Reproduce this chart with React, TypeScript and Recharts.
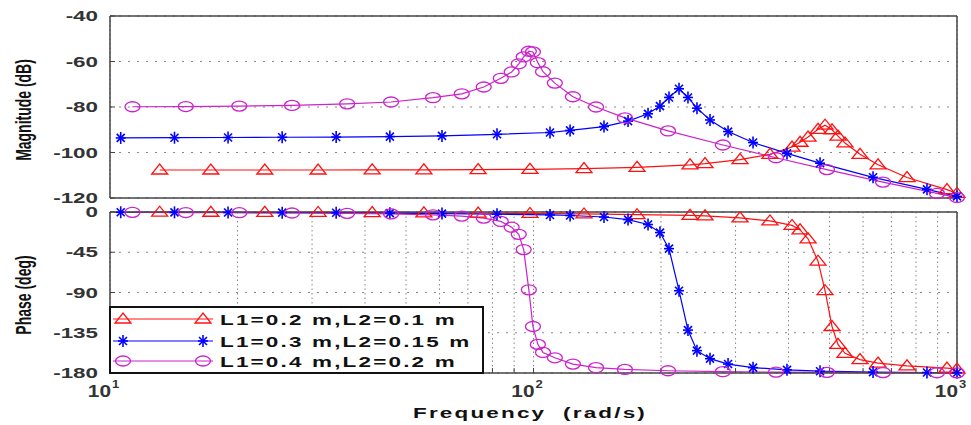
import React from 'react';
import { LineChart, Line, XAxis, YAxis, CartesianGrid, Legend } from 'recharts';

// series A: L1=0.2 m, L2=0.1 m (red triangles)
const freqA = [13.1, 17.3, 23.2, 31.0, 41.6, 55.1, 74, 98.1, 131.6, 175.6, 234.2, 254.1, 307.4, 361.7, 407.8, 426, 444.9, 469.7, 488, 506.9, 523.6, 543.9, 590.2, 651, 762.1, 947, 1000];
const magA = [-107.7, -107.7, -107.7, -107.7, -107.6, -107.6, -107.5, -107.4, -107.1, -106.5, -105.4, -104.9, -103.1, -100.8, -97.6, -95.5, -93.2, -89.8, -88, -90, -92.8, -95.8, -100.8, -105.4, -111, -116.3, -118];
const phaseA = [-0.2, -0.3, -0.4, -0.5, -0.7, -0.9, -1.2, -1.6, -2.2, -3, -3.8, -4.3, -6.5, -10, -15, -20, -30, -55, -88, -128, -148, -158, -165, -169, -172, -174.5, -175.5];

// series B: L1=0.3 m, L2=0.15 m (blue stars)
const freqB = [10.6, 14.2, 19.0, 25.5, 34.2, 45.8, 60.8, 82.0, 109.4, 122, 146.7, 167.2, 186.4, 198.9, 208.9, 220.6, 231.6, 243.2, 261.1, 288, 329.9, 396.8, 474.9, 633.5, 849.4, 1000];
const magB = [-93.6, -93.5, -93.4, -93.3, -93.2, -93.0, -92.7, -92.0, -91.2, -90.3, -88.6, -86.2, -83, -79.6, -75.8, -72, -75.8, -80.5, -85.7, -90.8, -95.6, -100.4, -104.7, -110.9, -116.2, -119.3];
const phaseB = [-0.3, -0.4, -0.5, -0.7, -0.9, -1.3, -1.8, -2.5, -3.3, -3.9, -5.6, -8.5, -14, -23, -41, -88, -132, -155, -164, -170, -174, -176.5, -178, -179, -179.5, -179.7];

// series C: L1=0.4 m, L2=0.2 m (magenta circles)
const freqC = [11.3, 15.1, 20.2, 26.9, 36.3, 46.1, 57.9, 67.7, 76.3, 83.7, 88.8, 92.3, 94.8, 97.5, 99.7, 102.4, 105.3, 112.3, 123.9, 140.5, 164.4, 207.8, 280, 373.8, 493, 668.7, 897, 1000];
const magC = [-79.9, -79.8, -79.6, -79.3, -78.6, -77.8, -75.9, -74.2, -71.2, -67.4, -64.6, -61, -58, -55.5, -55.8, -60.5, -64.5, -69.5, -75.5, -80, -84.8, -90.5, -96.7, -102.3, -107.5, -113, -118, -119.8];
const phaseC = [-0.4, -0.6, -0.8, -1.1, -1.5, -2.1, -3.2, -4.6, -6.8, -10.5, -17, -25, -42, -87, -128, -148, -157, -163, -170, -174, -176, -177.5, -178.5, -179, -179.3, -179.5, -179.7, -179.8];

const names = ['L1=0.2 m,L2=0.1 m', 'L1=0.3 m,L2=0.15 m', 'L1=0.4 m,L2=0.2 m'];
const colors = ['#ff1010', '#0000ff', '#cc22cc'];
const kinds = ['tri', 'star', 'circle'];

const freqTicks = [10, 20, 30, 40, 50, 60, 70, 80, 90, 100, 200, 300, 400, 500, 600, 700, 800, 900, 1000];
const magTicks = [-120, -100, -80, -60, -40];
const phaseTicks = [-180, -135, -90, -45, 0];

const FONT = '"Liberation Sans", Arial, sans-serif';

const toRows = (f: number[], v: number[]) => f.map((x, i) => ({ f: x, v: v[i] }));

const magData = [toRows(freqA, magA), toRows(freqB, magB), toRows(freqC, magC)];
const phaseData = [toRows(freqA, phaseA), toRows(freqB, phaseB), toRows(freqC, phaseC)];

function Marker({ kind, cx, cy, color }: { kind: string; cx: number; cy: number; color: string }) {
  if (kind === 'tri') {
    return (
      <polygon
        points={`${cx - 8},${cy + 4} ${cx + 8},${cy + 4} ${cx},${cy - 6}`}
        fill="none"
        stroke={color}
        strokeWidth={1.3}
      />
    );
  }
  if (kind === 'star') {
    return (
      <g stroke={color} strokeWidth={1.6}>
        <line x1={cx} y1={cy - 6} x2={cx} y2={cy + 6} />
        <line x1={cx - 5} y1={cy} x2={cx + 5} y2={cy} />
        <line x1={cx - 4} y1={cy - 4} x2={cx + 4} y2={cy + 4} />
        <line x1={cx - 4} y1={cy + 4} x2={cx + 4} y2={cy - 4} />
      </g>
    );
  }
  return <ellipse cx={cx} cy={cy} rx={7.5} ry={5} fill="none" stroke={color} strokeWidth={1.3} />;
}

const YTick = (props: any) => {
  const { x, y, payload } = props;
  return (
    <text
      transform={`translate(${x},${y}) scale(1.6,1)`}
      textAnchor="end"
      dy="0.36em"
      fontSize={14}
      fontWeight="bold"
      fill="#333"
      fontFamily={FONT}
    >
      {payload.value}
    </text>
  );
};

const XTick = (props: any) => {
  const { x, y, payload } = props;
  const lg = Math.log10(payload.value);
  const exp = Math.round(lg);
  if (Math.abs(lg - exp) > 1e-6) return <g />;
  return (
    <g fontFamily={FONT} fontWeight="bold" fill="#333">
      <text transform={`translate(${x + 1},${y + 29}) scale(1.3,1)`} textAnchor="end" fontSize={16}>
        10
      </text>
      <text transform={`translate(${x + 2},${y + 20}) scale(1.3,1)`} fontSize={10}>
        {exp}
      </text>
    </g>
  );
};

const LegendBox = (props: any) => {
  const payload = props.payload || [];
  const rows = [11, 33, 53];
  return (
    <div
      style={{
        width: 375,
        height: 68,
        boxSizing: 'border-box',
        border: '2px solid #111',
        background: '#fff',
        position: 'relative',
      }}
    >
      <svg width={371} height={64} style={{ position: 'absolute', left: 0, top: 0 }}>
        {payload.map((entry: any, i: number) => {
          const idx = Math.max(0, names.indexOf(entry.value));
          const cy = rows[i] ?? rows[idx];
          const color = colors[idx];
          return (
            <g key={entry.value}>
              <line x1={2} y1={cy} x2={102} y2={cy} stroke={color} strokeWidth={1.2} />
              <Marker kind={kinds[idx]} cx={12} cy={cy} color={color} />
              <Marker kind={kinds[idx]} cx={92} cy={cy} color={color} />
              <text
                transform={`translate(109,${cy + 5.5}) scale(1.45,1)`}
                fontSize={15.5}
                fontWeight="bold"
                letterSpacing={1.5}
                fill="#111"
                fontFamily={FONT}
              >
                {entry.value}
              </text>
            </g>
          );
        })}
      </svg>
    </div>
  );
};

function Panel({
  data,
  ticks,
  domain,
  height,
  margin,
  bottomAxisHeight,
  showXLabels,
  legend,
}: {
  data: { f: number; v: number }[][];
  ticks: number[];
  domain: [number, number];
  height: number;
  margin: { top: number; right: number; bottom: number; left: number };
  bottomAxisHeight: number;
  showXLabels: boolean;
  legend: boolean;
}) {
  const axisStroke = { stroke: '#444', strokeWidth: 1.5 };
  return (
    <LineChart width={971} height={height} margin={margin}>
      <CartesianGrid horizontal vertical={false} stroke="#888" strokeDasharray="2 7" />
      <CartesianGrid horizontal={false} vertical stroke="#888" strokeDasharray="1.5 3" />
      <XAxis
        type="number"
        dataKey="f"
        scale="log"
        domain={[10, 1000]}
        ticks={freqTicks}
        interval={0}
        height={bottomAxisHeight}
        tickSize={-5}
        tickMargin={0}
        axisLine={axisStroke}
        tickLine={{ stroke: '#444' }}
        tick={showXLabels ? <XTick /> : false}
      />
      <XAxis
        xAxisId="top"
        orientation="top"
        type="number"
        dataKey="f"
        scale="log"
        domain={[10, 1000]}
        ticks={freqTicks}
        interval={0}
        height={1}
        tickSize={-5}
        axisLine={axisStroke}
        tickLine={{ stroke: '#444' }}
        tick={false}
      />
      <YAxis
        type="number"
        domain={domain}
        ticks={ticks}
        interval={0}
        width={60}
        tickSize={-5}
        tickMargin={17}
        axisLine={axisStroke}
        tickLine={{ stroke: '#444' }}
        tick={<YTick />}
      />
      <YAxis
        yAxisId="r"
        orientation="right"
        type="number"
        domain={domain}
        ticks={ticks}
        interval={0}
        width={1}
        tickSize={-5}
        axisLine={axisStroke}
        tickLine={{ stroke: '#444' }}
        tick={false}
      />
      {data.map((rows, i) => (
        <Line
          key={names[i]}
          data={rows}
          dataKey="v"
          name={names[i]}
          type="linear"
          stroke={colors[i]}
          strokeWidth={1.2}
          isAnimationActive={false}
          dot={(p: any) => (
            <Marker key={`m-${i}-${p.index}`} kind={kinds[i]} cx={p.cx} cy={p.cy} color={colors[i]} />
          )}
          activeDot={false}
        />
      ))}
      {legend && (
        <Legend
          layout="vertical"
          align="center"
          verticalAlign="middle"
          content={<LegendBox />}
          wrapperStyle={{ left: 109, top: 101, width: 375, height: 68 }}
        />
      )}
    </LineChart>
  );
}

export default function App() {
  return (
    <div
      style={{
        position: 'absolute',
        left: 0,
        top: 0,
        width: 971,
        height: 425,
        background: '#fff',
        fontFamily: FONT,
        overflow: 'hidden',
      }}
    >
      <div style={{ position: 'absolute', left: 0, top: 0 }}>
        <Panel
          data={magData}
          ticks={magTicks}
          domain={[-120, -40]}
          height={215}
          margin={{ top: 15, right: 13, bottom: 16, left: 50 }}
          bottomAxisHeight={1}
          showXLabels={false}
          legend={false}
        />
      </div>
      <div style={{ position: 'absolute', left: 0, top: 205 }}>
        <Panel
          data={phaseData}
          ticks={phaseTicks}
          domain={[-180, 0]}
          height={220}
          margin={{ top: 6, right: 13, bottom: 12, left: 50 }}
          bottomAxisHeight={40}
          showXLabels
          legend
        />
      </div>
      <svg
        width={971}
        height={425}
        style={{ position: 'absolute', left: 0, top: 0, pointerEvents: 'none' }}
        fontFamily={FONT}
        fontWeight="bold"
        fill="#111"
      >
        <text transform="translate(31,110) rotate(-90) scale(1,1.6)" textAnchor="middle" fontSize={14}>
          Magnitude (dB)
        </text>
        <text transform="translate(31,295) rotate(-90) scale(1,1.6)" textAnchor="middle" fontSize={14}>
          Phase (deg)
        </text>
        <text
          transform="translate(530,418) scale(1.45,1)"
          textAnchor="middle"
          fontSize={15.5}
          letterSpacing={1.5}
          style={{ whiteSpace: 'pre' }}
        >
          {'Frequency  (rad/s)'}
        </text>
      </svg>
    </div>
  );
}
